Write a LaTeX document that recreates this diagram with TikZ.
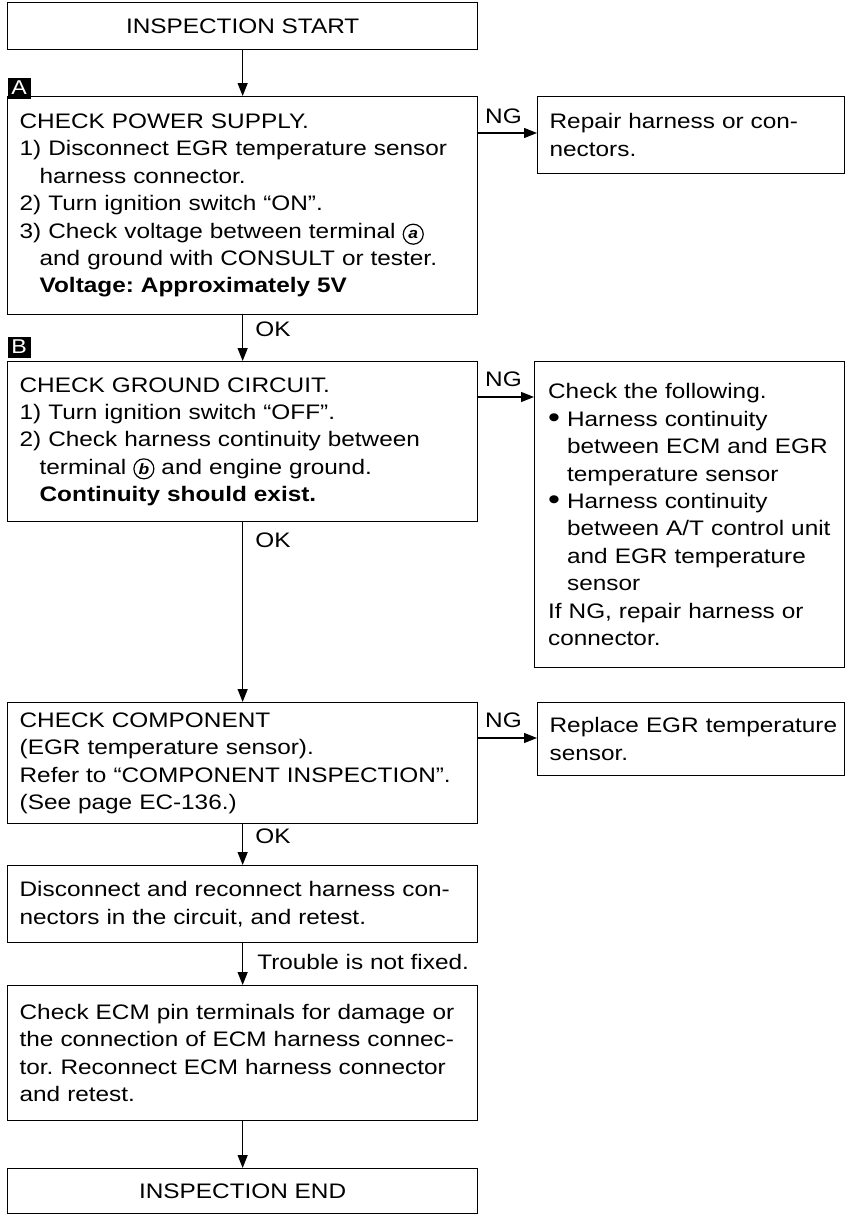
\documentclass[tikz,border=0pt]{standalone}
\usepackage{fontspec}
\setmainfont{Liberation Sans}[FakeStretch=1.16]
\usetikzlibrary{arrows.meta}
\newcommand{\circlet}[1]{\tikz[baseline=(cl.base)]\node[draw,circle,line width=1.2pt,inner sep=0.5pt,minimum size=20pt,font=\fontsize{15}{15}\selectfont\bfseries\itshape](cl){#1};}
\newcommand{\bigbul}{\raisebox{-1.5pt}{\scalebox{1.4}{\textbullet}}}
\newcommand{\ind}{\hspace*{20pt}}
\newcommand{\bind}{\hspace*{19pt}}
\newcommand{\lne}[1]{\mbox{#1}}
\begin{document}
\frenchspacing
\begin{tikzpicture}[x=1pt,y=-1pt,
  every node/.style={font=\fontsize{21}{27.4}\selectfont},
  lbox/.style={draw,line width=1.3pt,anchor=north west,align=left,inner xsep=12pt,inner ysep=0pt,text width=446pt,minimum width=470pt},
  rbox/.style={draw,line width=1.3pt,anchor=north west,align=left,inner xsep=12pt,inner ysep=0pt,text width=283pt,minimum width=307pt},
  cbox/.style={draw,line width=1.3pt,anchor=north west,align=center,inner sep=0pt,minimum width=470pt},
  flow/.style={line width=1.3pt,-{Triangle[length=13pt,width=10pt]}},
  lbl/.style={anchor=west,inner sep=0pt},
  marker/.style={fill=black,text=white,inner sep=0pt,minimum width=23pt,minimum height=21pt,font=\fontsize{20}{20}\selectfont}]
\useasboundingbox (0,0) rectangle (851,1215);

\node[cbox,minimum height=47pt] (start) at (7,2) {INSPECTION START};

\node[marker] (mA) at (19,88) {A};
\node[lbox,minimum height=218pt] (bA) at (7,96) {\lne{CHECK POWER SUPPLY.}\\
\lne{1) Disconnect EGR temperature sensor}\\
\lne{\ind harness connector.}\\
\lne{2) Turn ignition switch ``ON''.}\\
\lne{3) Check voltage between terminal \circlet{a}}\\
\lne{\ind and ground with CONSULT or tester.}\\
\lne{\ind\textbf{Voltage: Approximately 5V}}};
\node[rbox,minimum height=77pt] (rA) at (537,96) {\lne{Repair harness or con-}\\\lne{nectors.}};

\node[marker] (mB) at (19,347) {B};
\node[lbox,minimum height=160pt] (bB) at (7,361) {\lne{CHECK GROUND CIRCUIT.}\\
\lne{1) Turn ignition switch ``OFF''.}\\
\lne{2) Check harness continuity between}\\
\lne{\ind terminal \circlet{b} and engine ground.}\\
\lne{\ind\textbf{Continuity should exist.}}};
\node[rbox,minimum height=306pt,minimum width=310pt] (rB) at (534,361) {\lne{Check the following.}\\
\lne{\bigbul\ Harness continuity}\\
\lne{\bind between ECM and EGR}\\
\lne{\bind temperature sensor}\\
\lne{\bigbul\ Harness continuity}\\
\lne{\bind between A/T control unit}\\
\lne{\bind and EGR temperature}\\
\lne{\bind sensor}\\
\lne{If NG, repair harness or}\\
\lne{connector.}};

\node[lbox,minimum height=121pt] (bC) at (7,702) {\lne{CHECK COMPONENT}\\
\lne{(EGR temperature sensor).}\\
\lne{Refer to ``COMPONENT INSPECTION''.}\\
\lne{(See page EC-136.)}};
\node[rbox,minimum height=73pt] (rC) at (537,702) {\lne{Replace EGR temperature}\\\lne{sensor.}};

\node[lbox,minimum height=77pt] (bD) at (7,865) {\lne{Disconnect and reconnect harness con-}\\
\lne{nectors in the circuit, and retest.}};

\node[lbox,minimum height=135pt] (bE) at (7,985) {\lne{Check ECM pin terminals for damage or}\\
\lne{the connection of ECM harness connec-}\\
\lne{tor. Reconnect ECM harness connector}\\
\lne{and retest.}};

\node[cbox,minimum height=45pt] (endn) at (7,1168) {INSPECTION END};

% vertical flow
\draw[flow] (start.south) -- (bA.north);
\draw[flow] (bA.south) -- node[lbl,pos=0.3,xshift=12pt] (okA) {OK} (bB.north);
\draw[flow] (bB.south) -- node[lbl,pos=0.1,xshift=12pt] (okB) {OK} (bC.north);
\draw[flow] (bC.south) -- node[lbl,pos=0.3,xshift=12pt] (okC) {OK} (bD.north);
\draw[flow] (bD.south) -- node[lbl,pos=0.45,xshift=14pt] (tnf) {Trouble is not fixed.} (bE.north);
\draw[flow] (bE.south) -- (endn.north);

% NG branches
\draw[flow] (bA.east |- 0,133) coordinate (nA) -- (rA.west |- nA);
\node[lbl] (ngA) at (485,116) {NG};
\draw[flow] (bB.east |- 0,397) coordinate (nB) -- (rB.west |- nB);
\node[lbl] (ngB) at (485,379) {NG};
\draw[flow] (bC.east |- 0,738) coordinate (nC) -- (rC.west |- nC);
\node[lbl] (ngC) at (485,720) {NG};
\end{tikzpicture}
\end{document}
